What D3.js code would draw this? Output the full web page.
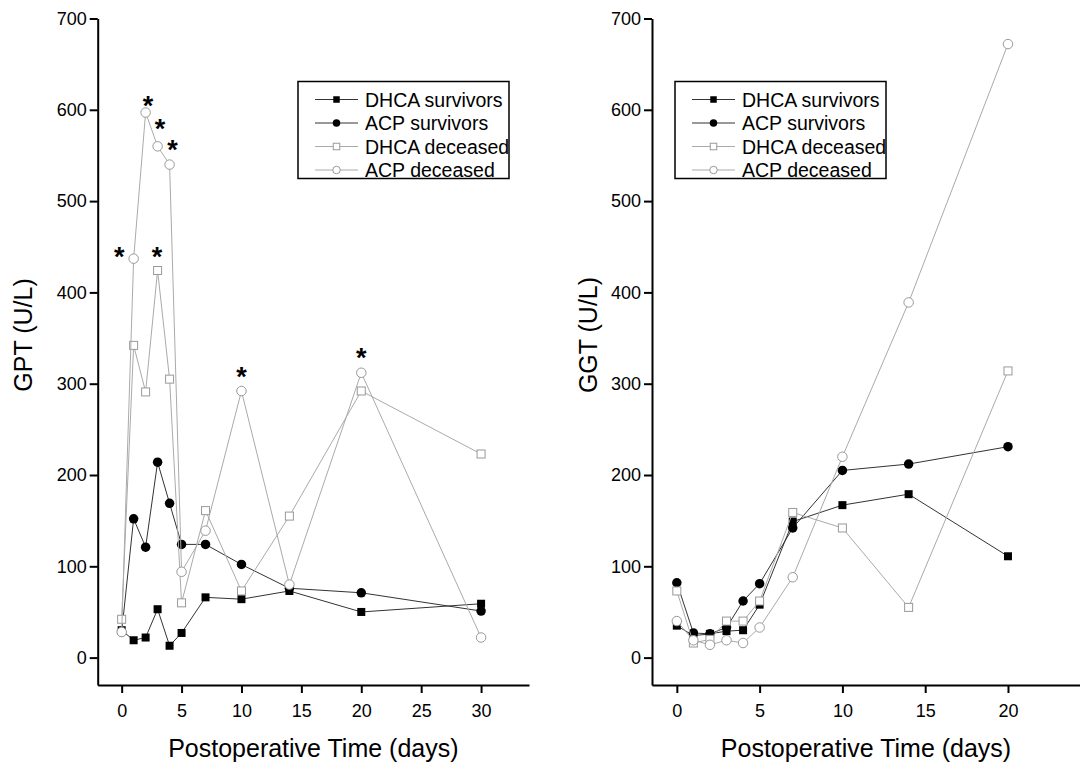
<!DOCTYPE html>
<html>
<head>
<meta charset="utf-8">
<script src="https://cdn.jsdelivr.net/npm/d3@7/dist/d3.min.js"></script>
<style>
  html, body { margin: 0; padding: 0; background: #fff; }
  svg { display: block; font-family: "Liberation Sans", Arial, sans-serif; }
</style>
</head>
<body>
<svg id="chart" width="1080" height="765"></svg>
<script>
// ---------------- DATA ----------------
const seriesNames = ["DHCA survivors", "ACP survivors", "DHCA deceased", "ACP deceased"];

// Left panel: GPT
const gptDays = [0, 1, 2, 3, 4, 5, 7, 10, 14, 20, 30];
const gptDhcaSurvivors = [30, 19, 22, 53, 13, 27, 66, 64, 73, 50, 59];
const gptAcpSurvivors  = [28, 152, 121, 214, 169, 124, 124, 102, 76, 71, 51];
const gptDhcaDeceased  = [42, 342, 291, 424, 305, 60, 161, 73, 155, 292, 223];
const gptAcpDeceased   = [28, 437, 597, 560, 540, 94, 139, 292, 80, 312, 22];
// significance asterisks (day, value)
const gptStarDays   = [-0.2, 2.2, 3.2, 4.25, 2.95, 10, 20];
const gptStarValues = [445, 611, 585, 562, 445, 314, 335];

// Right panel: GGT
const ggtDays = [0, 1, 2, 3, 4, 5, 7, 10, 14, 20];
const ggtDhcaSurvivors = [35, 24, 26, 29, 30, 58, 149, 167, 179, 111];
const ggtAcpSurvivors  = [82, 27, 26, 33, 62, 81, 142, 205, 212, 231];
const ggtDhcaDeceased  = [73, 16, 20, 40, 40, 62, 159, 142, 55, 314];
const ggtAcpDeceased   = [40, 19, 14, 19, 16, 33, 88, 220, 389, 672];

const xMajorLeft  = [0, 5, 10, 15, 20, 25, 30];
const xMinorLeft  = [2.5, 7.5, 12.5, 17.5, 22.5, 27.5, 32.5];
const xMajorRight = [0, 5, 10, 15, 20];
const xMinorRight = [2.5, 7.5, 12.5, 17.5, 22.5];
const yMajor = [0, 100, 200, 300, 400, 500, 600, 700];
const yMinor = [50, 150, 250, 350, 450, 550, 650];

// ---------------- STYLES ----------------
const styles = [
  { shape: "square", fill: "#000", stroke: "#000", line: "#333" },
  { shape: "circle", fill: "#000", stroke: "#000", line: "#333" },
  { shape: "square", fill: "#fff", stroke: "#999", line: "#aaa" },
  { shape: "circle", fill: "#fff", stroke: "#999", line: "#aaa" }
];

const svg = d3.select("#chart");
const FONT = "'Liberation Sans', Arial, sans-serif";

function drawMarker(g, shape, cx, cy, size, st, filled) {
  if (shape === "square") {
    g.append("rect")
      .attr("x", cx - size / 2).attr("y", cy - size / 2)
      .attr("width", size).attr("height", size)
      .attr("fill", st.fill).attr("stroke", st.stroke)
      .attr("stroke-width", filled ? 0 : 1);
  } else {
    g.append("circle")
      .attr("cx", cx).attr("cy", cy).attr("r", size / 2)
      .attr("fill", st.fill).attr("stroke", st.stroke)
      .attr("stroke-width", filled ? 0 : 1);
  }
}

function panel(opts) {
  const { xDomain, xRange, days, series, xMajor, xMinor, yTitle, yTitleX, legendX, stars } = opts;
  const x = d3.scaleLinear().domain(xDomain).range(xRange);
  const y = d3.scaleLinear().domain([-30, 700]).range([685, 18.5]);
  const g = svg.append("g");

  // axes
  const yAxisMinor = d3.axisLeft(y).tickValues(yMinor).tickSize(5).tickSizeOuter(0).tickFormat("");
  const yAxisMajor = d3.axisLeft(y).tickValues(yMajor).tickSize(8).tickSizeOuter(0).tickPadding(3);
  const xAxisMinor = d3.axisBottom(x).tickValues(xMinor).tickSize(5).tickSizeOuter(0).tickFormat("");
  const xAxisMajor = d3.axisBottom(x).tickValues(xMajor).tickSize(8).tickSizeOuter(0).tickPadding(11);

  const gy = g.append("g").attr("transform", `translate(${xRange[0]},0)`);
  gy.call(yAxisMinor); gy.call(yAxisMajor);
  const gx = g.append("g").attr("transform", `translate(0,${y(-30)})`);
  gx.call(xAxisMinor); gx.call(xAxisMajor);
  [gx, gy].forEach(a => {
    a.selectAll("path.domain").attr("stroke", "#000").attr("stroke-width", 2);
    a.selectAll("line").attr("stroke", "#000").attr("stroke-width", 2);
    a.selectAll("text").attr("font-family", FONT).attr("font-size", 18).attr("fill", "#000");
  });

  // titles
  g.append("text")
    .attr("x", (xRange[0] + xRange[1]) / 2 + (opts.xTitleShift || 0)).attr("y", 757)
    .attr("text-anchor", "middle").attr("font-family", FONT).attr("font-size", 25)
    .text("Postoperative Time (days)");
  g.append("text")
    .attr("transform", `translate(${yTitleX},335) rotate(-90)`)
    .attr("text-anchor", "middle").attr("dy", "0.35em")
    .attr("font-family", FONT).attr("font-size", 25)
    .text(yTitle);

  // lines and markers
  const line = d3.line().x(d => x(d[0])).y(d => y(d[1]));
  series.forEach((vals, i) => {
    const st = styles[i];
    const pts = days.map((d, j) => [d, vals[j]]);
    const sg = g.append("g");
    sg.append("path").attr("d", line(pts)).attr("fill", "none")
      .attr("stroke", st.line).attr("stroke-width", 1);
    const filled = i < 2;
    pts.forEach(p => {
      drawMarker(sg, st.shape, x(p[0]), y(p[1]), st.shape === "square" ? 8 : 9.5, st, filled);
    });
  });

  // asterisks
  if (stars) {
    stars.days.forEach((d, j) => {
      g.append("text")
        .attr("x", x(d)).attr("y", y(stars.values[j]) + 15)
        .attr("text-anchor", "middle").attr("font-family", FONT)
        .attr("font-weight", "bold").attr("font-size", 27).text("*");
    });
  }

  // legend
  const lg = g.append("g").attr("transform", `translate(${legendX},81.5)`);
  lg.append("rect").attr("x", 0).attr("y", 0).attr("width", 211).attr("height", 97)
    .attr("fill", "#fff").attr("stroke", "#000").attr("stroke-width", 1.5);
  seriesNames.forEach((name, i) => {
    const st = styles[i];
    const ry = 18 + i * 23.5;
    lg.append("line").attr("x1", 17).attr("x2", 60).attr("y1", ry).attr("y2", ry)
      .attr("stroke", st.line).attr("stroke-width", 1);
    drawMarker(lg, st.shape, 38.5, ry, st.shape === "square" ? 6.5 : 7.5, st, i < 2);
    lg.append("text").attr("x", 67).attr("y", ry).attr("dy", "0.36em")
      .attr("font-family", FONT).attr("font-size", 19.5).attr("fill", "#000").text(name);
  });
}

panel({
  xDomain: [-2, 34], xRange: [97.7, 529],
  days: gptDays,
  series: [gptDhcaSurvivors, gptAcpSurvivors, gptDhcaDeceased, gptAcpDeceased],
  xMajor: xMajorLeft, xMinor: xMinorLeft,
  yTitle: "GPT (U/L)", yTitleX: 23, legendX: 298,
  stars: { days: gptStarDays, values: gptStarValues }
});

panel({
  xDomain: [-1.5, 24.35], xRange: [652, 1080],
  days: ggtDays,
  series: [ggtDhcaSurvivors, ggtAcpSurvivors, ggtDhcaDeceased, ggtAcpDeceased],
  xMajor: xMajorRight, xMinor: xMinorRight,
  yTitle: "GGT (U/L)", yTitleX: 588, legendX: 675
});
</script>
</body>
</html>
